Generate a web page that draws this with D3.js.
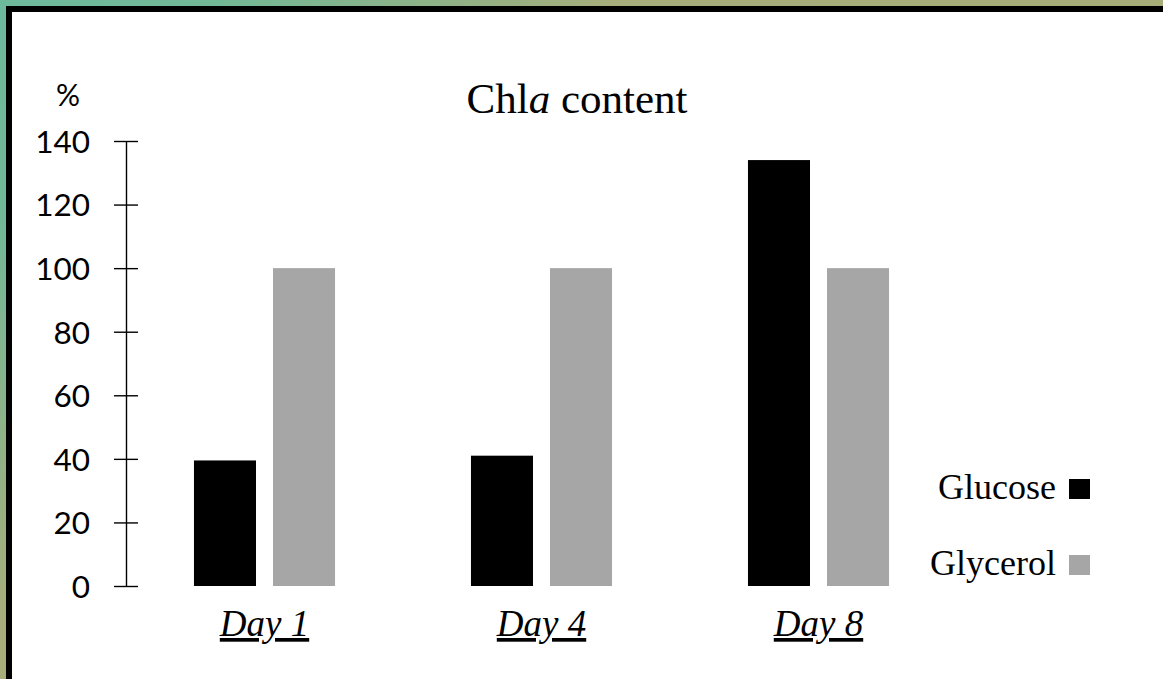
<!DOCTYPE html>
<html>
<head>
<meta charset="utf-8">
<script src="https://cdn.jsdelivr.net/npm/d3@7"></script>
<style>
  html, body { margin: 0; padding: 0; overflow: hidden; }
  svg { display: block; }
</style>
</head>
<body>
<script>
const categories = ["Day 1", "Day 4", "Day 8"];
const seriesNames = ["Glucose", "Glycerol"];
const glucose = [39.5, 41, 134];
const glycerol = [100, 100, 100];
const yTicks = [0, 20, 40, 60, 80, 100, 120, 140];
const colors = ["#000000", "#a6a6a6"];

const W = 1163, H = 679;
const svg = d3.select("body").append("svg").attr("width", W).attr("height", H);

// background gradient frame
const defs = svg.append("defs");
const grad = defs.append("linearGradient").attr("id", "bg")
  .attr("gradientUnits", "userSpaceOnUse")
  .attr("x1", 0).attr("y1", 0).attr("x2", 500).attr("y2", 500);
grad.append("stop").attr("offset", 0).attr("stop-color", "#6db99c");
grad.append("stop").attr("offset", 0.22).attr("stop-color", "#72b897");
grad.append("stop").attr("offset", 0.62).attr("stop-color", "#a7ae7b");
grad.append("stop").attr("offset", 1).attr("stop-color", "#a8ae7a");
svg.append("rect").attr("width", W).attr("height", H).attr("fill", "url(#bg)");
svg.append("rect").attr("x", 9).attr("y", 9).attr("width", W + 20).attr("height", H + 20)
  .attr("fill", "#ffffff").attr("stroke", "#000").attr("stroke-width", 6);

const data = categories.map((c, i) => ({ cat: c, values: [glucose[i], glycerol[i]] }));

const x0 = d3.scaleBand().domain(categories).range([126, 957]).padding(0);
const x1 = d3.scaleBand().domain(seriesNames).range([0, x0.bandwidth()])
  .paddingInner(0.215).paddingOuter(0.86);
const y = d3.scaleLinear().domain([0, 140]).range([586, 141]);

// bars
const groups = svg.append("g").selectAll("g").data(data).join("g")
  .attr("transform", d => `translate(${x0(d.cat)},0)`);
groups.selectAll("rect").data(d => d.values.map((v, j) => ({ name: seriesNames[j], v, j })))
  .join("rect")
  .attr("x", d => x1(d.name))
  .attr("y", d => y(d.v))
  .attr("width", x1.bandwidth())
  .attr("height", d => y(0) - y(d.v))
  .attr("fill", d => colors[d.j]);

// y axis
const yAxis = d3.axisLeft(y).tickValues(yTicks).tickSizeInner(0).tickSizeOuter(0).tickPadding(36);
const ya = svg.append("g").attr("transform", "translate(126,0)").call(yAxis);
ya.select(".domain").attr("stroke", "#000").attr("stroke-width", 1.4);
ya.selectAll(".tick line").attr("x1", -12).attr("x2", 12).attr("stroke", "#000").attr("stroke-width", 1.4);
ya.selectAll(".tick text").attr("font-family", "Lato, 'Open Sans', sans-serif")
  .attr("font-size", 31.5).attr("fill", "#000").attr("dy", "0.36em");

// x labels
svg.append("g").selectAll("text").data(categories).join("text")
  .attr("x", d => x0(d) + x0.bandwidth() / 2)
  .attr("y", 636)
  .attr("text-anchor", "middle")
  .attr("font-family", "'Liberation Serif', 'Times New Roman', serif")
  .attr("font-style", "italic")
  .attr("font-size", 37)
  .attr("text-decoration", "underline")
  .attr("fill", "#000")
  .text(d => d);

// % label
svg.append("text").attr("x", 68).attr("y", 106).attr("text-anchor", "middle")
  .attr("font-family", "Lato, 'Open Sans', sans-serif").attr("font-size", 30)
  .attr("fill", "#000").text("%");

// title
const title = svg.append("text").attr("x", 577).attr("y", 113).attr("text-anchor", "middle")
  .attr("font-family", "'Liberation Serif', 'Times New Roman', serif")
  .attr("font-size", 43).attr("fill", "#000");
title.append("tspan").text("Chl");
title.append("tspan").attr("font-style", "italic").text("a");
title.append("tspan").text(" content");

// legend
const legY = [499, 575];
const leg = svg.append("g").selectAll("g").data(seriesNames).join("g");
leg.append("text")
  .attr("x", 1056).attr("y", (d, i) => legY[i])
  .attr("text-anchor", "end")
  .attr("font-family", "'Liberation Serif', 'Times New Roman', serif")
  .attr("font-size", 36).attr("fill", "#000").text(d => d);
leg.append("rect")
  .attr("x", 1069).attr("y", (d, i) => legY[i] - 20)
  .attr("width", 21).attr("height", 20)
  .attr("fill", (d, i) => colors[i]);
</script>
</body>
</html>
